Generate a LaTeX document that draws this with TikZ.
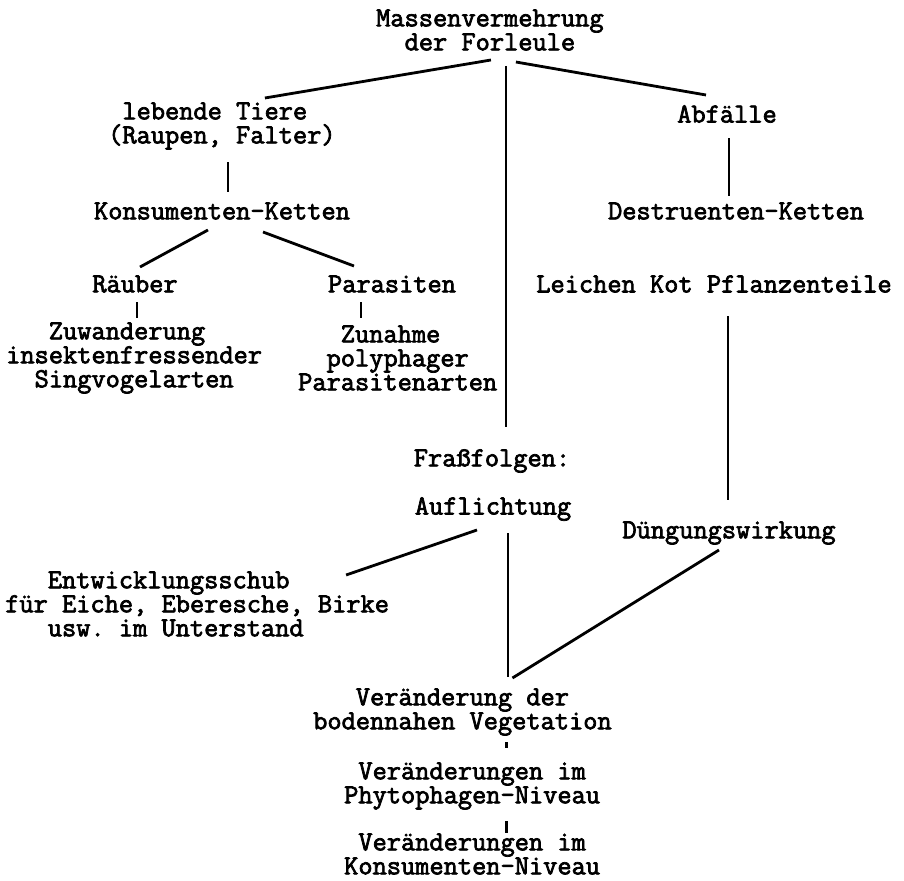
\documentclass[tikz,border=0pt]{standalone}
\usepackage{fontspec}
\setmonofont{Latin Modern Mono}[AutoFakeBold=2.6]
\usetikzlibrary{calc}
\begin{document}
\begin{tikzpicture}[x=1pt,y=-1pt,
   txt/.style={inner sep=0pt,font=\ttfamily\bfseries\fontsize{27.6}{24}\selectfont},
   blk/.style={txt,align=left,anchor=west},
   link/.style={line width=2.8pt},
   stem/.style={line width=2.3pt}]
   \useasboundingbox (0,0) rectangle (904,880);
   % Knoten
   \node[blk] (mass) at (376,30) {Massenvermehrung\\\hphantom{xx}der Forleule};
   \node[blk] (tiere) at (108,126) {\hphantom{x}lebende Tiere\\(Raupen, Falter)};
   \node[txt] (abf) at (727,114) {Abfälle};
   \node[txt] (kons) at (222,211) {Konsumenten-Ketten};
   \node[txt] (destr) at (736,211) {Destruenten-Ketten};
   \node[txt] (raeub) at (135,284) {Räuber};
   \node[txt] (paras) at (392,284) {Parasiten};
   \node[txt] (leich) at (714,284) {Leichen Kot Pflanzenteile};
   \node[blk] (zuw) at (6,358) {\hphantom{xxx}Zuwanderung\\insektenfressender\\\hphantom{xx}Singvogelarten};
   \node[blk] (zun) at (298,358) {\hphantom{xxx}Zunahme\\\hphantom{xx}polyphager\\Parasitenarten};
   \node[txt] (frass) at (492,461) {Fraßfolgen:};
   \node[txt] (aufl) at (493,509) {Auflichtung};
   \node[txt] (dueng) at (729,533) {Düngungswirkung};
   \node[blk] (entw) at (5,604) {\hphantom{xxx}Entwicklungsschub\\für Eiche, Eberesche, Birke\\\hphantom{xxx}usw. im Unterstand};
   \node[blk] (veg) at (313,712) {\hphantom{xxx}Veränderung der\\bodennahen Vegetation};
   \node[blk] (phyt) at (344,786) {\hphantom{x}Veränderungen im\\Phytophagen-Niveau};
   \node[blk] (konsn) at (344,854) {\hphantom{x}Veränderungen im\\Konsumenten-Niveau};
   % schraege Verbindungen
   \draw[link] ($(mass)+(1,30)$) -- ($(tiere)+(43,-28)$);
   \draw[link] ($(mass)+(26,32)$) -- ($(abf)+(-21,-19)$);
   \draw[link] ($(kons)+(-14,19)$) -- ($(raeub)+(5,-17)$);
   \draw[link] ($(kons)+(41,21)$) -- ($(paras)+(-38,-18)$);
   \draw[link] ($(aufl)+(-16,21)$) -- ($(entw)+(149,-29)$);
   \draw[link] ($(dueng)+(-10,17)$) -- ($(veg)+(50,-34)$);
   % senkrechte Verbindungen
   \draw[stem] ($(mass)+(16,36)$) -- ($(mass |- frass)+(16,-34)$);
   \draw[stem] ($(tiere)+(6,36)$) -- ($(tiere |- kons)+(6,-19)$);
   \draw[stem] ($(abf)+(2,24)$) -- ($(abf |- destr)+(2,-15)$);
   \draw[link] ($(raeub)+(2,18)$) -- ($(raeub |- zuw)+(2,-40)$);
   \draw[link] ($(paras)+(-31,18)$) -- ($(paras |- zun)+(-31,-40)$);
   \draw[stem] ($(leich)+(14,32)$) -- ($(leich |- dueng)+(14,-33)$);
   \draw[stem] ($(aufl)+(15,24)$) -- ($(aufl |- veg)+(15,-35)$);
   \draw[link] ($(veg)+(44,30)$) -- ($(veg |- phyt)+(44,-38)$);
   \draw[link] ($(phyt)+(34.5,35)$) -- ($(phyt |- konsn)+(34.5,-21)$);
\end{tikzpicture}
\end{document}
